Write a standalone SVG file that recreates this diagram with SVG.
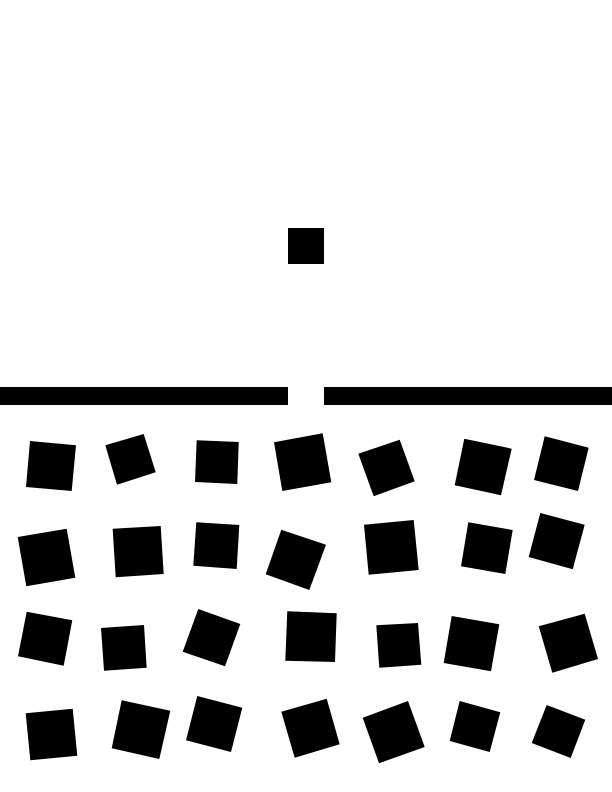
<svg xmlns="http://www.w3.org/2000/svg" width="612" height="792" viewBox="0 0 612 792">
<style>
.b{fill:#000;stroke:none}
</style>
<rect width="612" height="792" fill="#fff"/>
<g id="falling-block"><rect class="b" x="288" y="228" width="36" height="36"/></g>
<g id="wall">
<rect class="b" x="0" y="387" width="288" height="18"/>
<rect class="b" x="324" y="387" width="288" height="18"/>
</g>
<g id="blocks">
<polygon class="b" points="30,441 76,445.3 71.7,491 26,487"/>
<polygon class="b" points="105.3,445.3 143.7,434 155.7,472.3 117,484.7"/>
<polygon class="b" points="196.7,440.3 238.7,442 237.3,484 195,482"/>
<polygon class="b" points="274,442.3 322.7,433.3 331.3,482.3 282.3,491"/>
<polygon class="b" points="358.3,453.7 399.7,439.7 414.7,481.3 373.7,496.3"/>
<polygon class="b" points="464.3,438.7 511.7,448.7 501,495.3 454.7,485.3"/>
<polygon class="b" points="544.7,436.3 588.7,447.7 578,491 534,480"/>

<polygon class="b" points="17.7,537 66.7,528.7 75.3,577.7 26.3,586.3"/>
<polygon class="b" points="112.7,528.7 160.7,526 163.7,574 115.7,577.3"/>
<polygon class="b" points="196.3,522.3 239.3,525 236.7,569 193.3,565.7"/>
<polygon class="b" points="281.3,529.7 326,544.7 309.3,590 265.7,574.3"/>
<polygon class="b" points="364,524.7 413.7,520 418.7,570 368.7,574.7"/>
<polygon class="b" points="468.3,522.3 512.7,530 505.3,574 461,566.3"/>
<polygon class="b" points="540.3,513 584.7,524.7 572.7,569.3 528.7,557"/>

<polygon class="b" points="26.7,611.7 72.3,620.3 63.7,665.7 18,656.3"/>
<polygon class="b" points="101,628 144,625 146.7,667.7 104,670.7"/>
<polygon class="b" points="198.3,609 240.3,624 225,666.3 182.7,651.7"/>
<polygon class="b" points="287.3,611.3 336.7,613.3 335,662 285.3,660.7"/>
<polygon class="b" points="376.3,625.3 418,623 421.3,664.7 379.3,667.7"/>
<polygon class="b" points="451.7,616 499.3,624.3 491,671.3 443.7,663"/>
<polygon class="b" points="538.7,626.3 584.7,613.7 598,659 552.3,672.7"/>

<polygon class="b" points="25.7,713.3 72.7,708.7 77.3,755.7 30.3,760.3"/>
<polygon class="b" points="121.7,700.3 170.3,710.7 159.3,759 111.7,748.3"/>
<polygon class="b" points="197.3,696 242.3,707.7 231,752 186,740.3"/>
<polygon class="b" points="281.3,711.7 326.7,698.7 339.7,744.3 294.7,757.7"/>
<polygon class="b" points="362.7,717.7 408,701 424.7,747 379,763.3"/>
<polygon class="b" points="459.7,701 500.3,712.3 489.7,752 449.7,741"/>
<polygon class="b" points="546.7,705 585.3,719.7 570.7,758 531.7,743"/>
</g>
</svg>
